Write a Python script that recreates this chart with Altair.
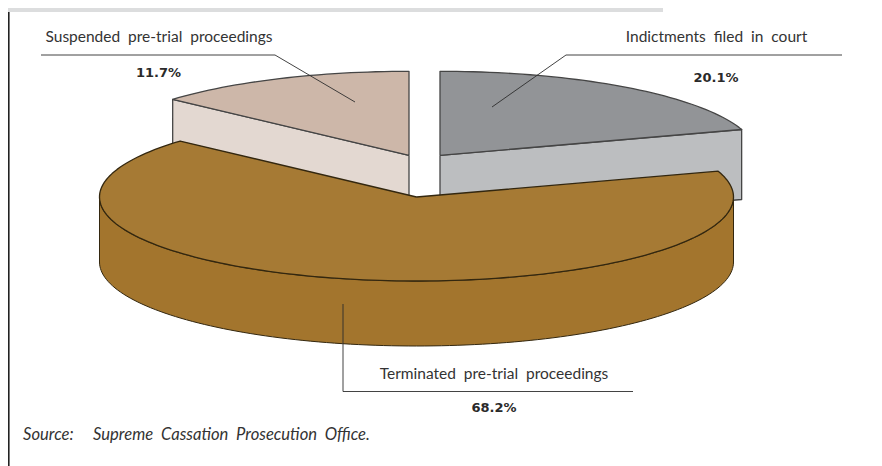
import math
import altair as alt
import pandas as pd

# Values as printed, and the sweep each slice is actually drawn with in the picture
categories = ["Indictments \u00a0filed \u00a0in \u00a0court", "Terminated \u00a0pre-trial \u00a0proceedings", "Suspended \u00a0pre-trial \u00a0proceedings"]
printed = ["20.1%", "68.2%", "11.7%"]
drawn_sweep_deg = [72.1, 239.7, 48.2]
start_deg = 90.0

top_fill = ["#929497", "#A67A34", "#CDB7A9"]
side_fill = ["#BCBEC0", "#A3752D", "#E3D8D1"]
edge = ["#454545", "#33270F", "#454545"]

apex_x = [440.0, 416.5, 409.0]
apex_y = [155.3, 197.0, 155.3]
depth = [70.0, 65.0, 70.0]
RX, RY = 317.0, 84.0

W, H = 866, 458
xs = alt.Scale(domain=[8, 8 + W], range=[0, W], nice=False, zero=False)
ys = alt.Scale(domain=[8 + H, 8], range=[H, 0], nice=False, zero=False)
X = lambda f: alt.X(f, type="quantitative", scale=xs, axis=None)
Y = lambda f: alt.Y(f, type="quantitative", scale=ys, axis=None)


def rim(i, a0, a1, dy=0.0):
    n = max(2, int(abs(a1 - a0) / 1.5))
    out = []
    for k in range(n + 1):
        t = math.radians(a0 + (a1 - a0) * k / n)
        out.append((apex_x[i] + RX * math.cos(t), apex_y[i] - RY * math.sin(t) + dy))
    return out


def poly(points, fill, stroke, sw=1.3):
    rows = [{"x": p[0], "y": p[1], "i": j} for j, p in enumerate(points + points[:1])]
    return alt.Chart(pd.DataFrame(rows)).mark_line(
        fill=fill, stroke=stroke, strokeWidth=sw, strokeJoin="round", interpolate="linear"
    ).encode(x=X("x"), y=Y("y"), order=alt.Order("i:Q"))


def leader(points, w=0.9):
    rows = [{"x": p[0], "y": p[1], "i": j} for j, p in enumerate(points)]
    return alt.Chart(pd.DataFrame(rows)).mark_line(stroke="#2E2E2E", strokeWidth=w).encode(
        x=X("x"), y=Y("y"), order=alt.Order("i:Q"))


g_a1 = start_deg
g_a0 = start_deg - drawn_sweep_deg[0]
b_a0 = g_a1 + drawn_sweep_deg[2]
br_from = b_a0
br_to = br_from + drawn_sweep_deg[1]

layers = []
# grey slice
i = 0
c = (apex_x[i], apex_y[i])
e = rim(i, g_a0, g_a0)[0]
layers.append(poly([c, e, (e[0], e[1] + depth[i]), (c[0], c[1] + depth[i])], side_fill[i], edge[i]))
layers.append(poly([c] + rim(i, g_a0, g_a1), top_fill[i], edge[i]))
# beige slice
i = 2
c = (apex_x[i], apex_y[i])
e = rim(i, b_a0, b_a0)[0]
layers.append(poly([c, e, (e[0], e[1] + depth[i]), (c[0], c[1] + depth[i])], side_fill[i], edge[i]))
layers.append(poly([c] + rim(i, g_a1, b_a0), top_fill[i], edge[i]))
# brown slice
i = 1
c = (apex_x[i], apex_y[i])
front = rim(i, 180, 360)
back = rim(i, 360, 180, depth[i])
layers.append(poly(front + back, side_fill[i], edge[i], 1.0))
layers.append(poly([c] + rim(i, br_from, br_to), top_fill[i], edge[i], 1.3))

# leaders
layers.append(leader([(41, 55), (275, 55), (355, 102)]))
layers.append(leader([(842, 55), (566, 55), (492, 107)]))
layers.append(leader([(343, 304), (343, 391.5), (633, 391.5)]))

# page furniture
band = pd.DataFrame({"x": [8], "x2": [663], "y": [8], "y2": [12]})
layers.append(alt.Chart(band).mark_rect(color="#DCDDDE").encode(
    x=X("x"), x2="x2", y=Y("y"), y2="y2"))
layers.append(alt.Chart(pd.DataFrame({"x": [8.8], "y": [12], "y2": [466]})).mark_rule(
    color="#222222", strokeWidth=1.6).encode(x=X("x"), y=Y("y"), y2="y2"))

name_font = "Lato"
label_rows = pd.DataFrame({
    "text": [categories[2], categories[0], categories[1]],
    "x": [159, 716.5, 494],
    "y": [37, 37, 373.5],
})
value_rows = pd.DataFrame({
    "text": [printed[2], printed[0], printed[1]],
    "x": [158.5, 716, 494],
    "y": [73, 78, 408],
})
source_text = ["Source: \u00a0\u00a0\u00a0\u00a0Supreme \u00a0Cassation \u00a0Prosecution \u00a0Office."]
layers.append(alt.Chart(label_rows).mark_text(
    font=name_font, fontSize=15.5, color="#333333", align="center", baseline="middle"
).encode(x=X("x"), y=Y("y"), text="text:N"))
layers.append(alt.Chart(value_rows).mark_text(
    font="DejaVu Sans", fontSize=13, fontWeight="bold", color="#2A2A2A", align="center", baseline="middle"
).encode(x=X("x"), y=Y("y"), text="text:N"))
layers.append(alt.Chart(pd.DataFrame({"text": source_text, "x": [23], "y": [435]})).mark_text(
    font=name_font, fontSize=16.6, fontStyle="italic", color="#333333", align="left", baseline="middle"
).encode(x=X("x"), y=Y("y"), text="text:N"))

chart = alt.layer(*layers).properties(
    width=W, height=H, padding=0, autosize=alt.AutoSizeParams(type="none"), background="white"
).configure_view(stroke=None)

chart.save("out.html", embed_options={"renderer": "svg", "actions": False})
